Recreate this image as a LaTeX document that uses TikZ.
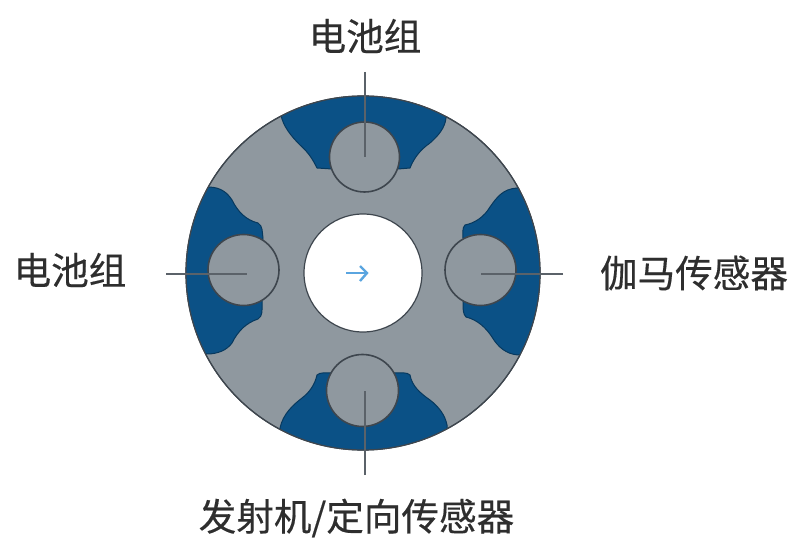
\documentclass[tikz,border=0pt]{standalone}
\usepackage{fontspec}
\newfontfamily\cjk[FakeBold=0.4]{Noto Sans CJK SC}
\definecolor{rotor}{HTML}{8F989F}
\definecolor{pocket}{HTML}{0B5186}
\definecolor{edge}{HTML}{3E464E}
\definecolor{arrowblue}{HTML}{5AA5E0}
\tikzset{
  label text/.style={font=\cjk\fontsize{37.6}{42}\selectfont,text=black!82,inner sep=0pt},
  pocket shape/.style={fill=pocket,draw=pocket!70!black,line width=1pt},
  sensor/.style={circle,fill=rotor,draw=edge,line width=1.6pt,inner sep=0pt,minimum size=70pt},
  leader/.style={draw=edge!85!white,line width=1.6pt},
  arrow stroke/.style={draw=arrowblue,line width=2.4pt}
}
\begin{document}
\begin{tikzpicture}[x=1pt,y=-1pt]
\useasboundingbox (0,0) rectangle (796,548);
\node[circle,fill=rotor,draw=edge,line width=1.2pt,inner sep=0pt,minimum size=354pt] (body) at (363,273) {};
\begin{scope}
\clip (363,273) circle [radius=177pt];
\path[pocket shape] (281,115) .. controls (283,126) and (291,136) .. (300,145)
  .. controls (309,153) and (313,160) .. (317,168) -- (332,169) -- (398,169) -- (410,168)
  .. controls (414,158) and (420,150) .. (430,143) .. controls (438,136) and (445,128) .. (446,118)
  -- (446,80) -- (281,80) -- cycle;
\path[pocket shape] (208,187) .. controls (222,187) and (228,194) .. (232,200)
  .. controls (238,212) and (246,220) .. (258,223) .. controls (263,226) and (262,232) .. (263,238)
  -- (262,303) .. controls (262,310) and (263,316) .. (258,319)
  .. controls (246,323) and (238,331) .. (232,343) .. controls (227,350) and (218,354) .. (207,354)
  -- (170,354) -- (170,187) -- cycle;
\path[pocket shape] (517,188) .. controls (503,189) and (497,197) .. (490,207)
  .. controls (484,217) and (475,223) .. (465,225) .. controls (462,228) and (463,233) .. (463,238)
  -- (463,303) .. controls (463,309) and (463,314) .. (466,317)
  .. controls (478,320) and (486,328) .. (492,337) .. controls (498,347) and (506,354) .. (518,355)
  -- (555,355) -- (555,188) -- cycle;
\path[pocket shape] (280,428) .. controls (283,414) and (293,405) .. (302,398)
  .. controls (310,392) and (315,384) .. (317,375) .. controls (320,372) and (326,373) .. (332,373)
  -- (395,373) .. controls (401,373) and (407,372) .. (410,375)
  .. controls (412,386) and (420,393) .. (430,400) .. controls (439,407) and (445,415) .. (447,425)
  -- (447,465) -- (280,465) -- cycle;
\end{scope}
\node[circle,draw=edge,line width=1.2pt,inner sep=0pt,minimum size=354pt] (rim) at (363,273) {};
\node[sensor] (top) at (364.5,157) {};
\node[sensor,minimum size=71pt] (left) at (243.5,270) {};
\node[sensor,minimum size=71pt] (right) at (480.5,270) {};
\node[sensor,minimum size=72pt] (bottom) at (362.5,390.5) {};
\node[circle,fill=white,draw=edge,line width=1.2pt,inner sep=0pt,minimum size=118pt] (bore) at (363,273) {};
\coordinate (topend) at (365,72);
\coordinate (topin) at (365,157);
\coordinate (leftend) at (166,274);
\coordinate (leftin) at (247,274);
\coordinate (rightend) at (563,274);
\coordinate (rightin) at (481,274);
\coordinate (bottomend) at (365,475);
\coordinate (bottomin) at (365,391);
\draw[leader] (topend) -- (topin);
\draw[leader] (leftend) -- (leftin);
\draw[leader] (rightend) -- (rightin);
\draw[leader] (bottomend) -- (bottomin);
\coordinate (a1) at (346,273);
\coordinate (a2) at (367,273);
\coordinate (a3) at (360,266);
\coordinate (a4) at (360,281);
\draw[arrow stroke] (a1) -- (a2);
\draw[arrow stroke] (a3) -- (a2) -- (a4);
\node[label text] (t1) at (365,36) {电池组};
\node[label text] (t2) at (70,270) {电池组};
\node[label text] (t3) at (694,273) {伽马传感器};
\node[label text] (t4) at (356.5,518) {发射机/定向传感器};
\end{tikzpicture}
\end{document}
